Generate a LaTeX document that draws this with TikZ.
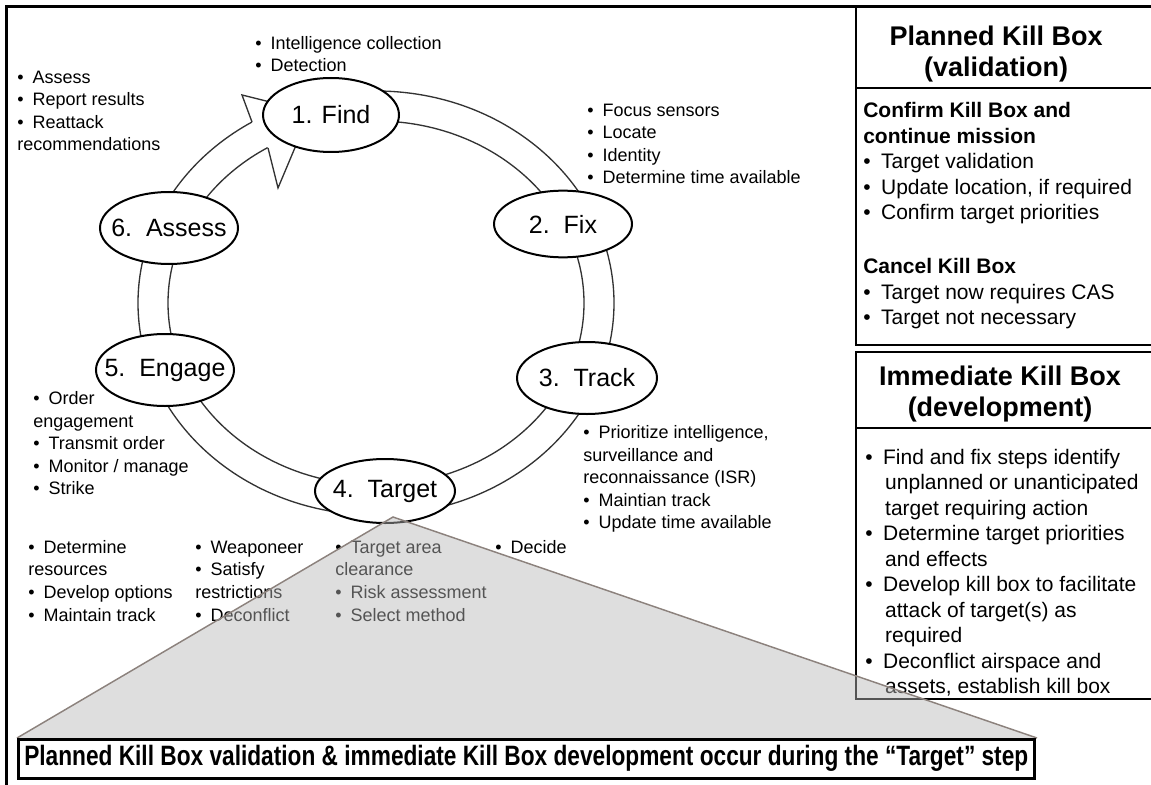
\documentclass[tikz,border=0pt]{standalone}
\usepackage{fontspec}
\usepackage{graphicx}
\setmainfont{Liberation Sans}
\usetikzlibrary{shapes.geometric}

\definecolor{edgeGray}{RGB}{140,130,125}
\newcommand{\itm}{\textbullet\hspace{0.5em}}
\newcommand{\cont}{\hspace*{0.95em}}

\begin{document}
\begin{tikzpicture}[x=0.75pt,y=-0.75pt,
    stepnode/.style={ellipse,draw,line width=1.5pt,fill=white,inner sep=0pt,
        minimum width=103.5pt,minimum height=54pt,font=\fontsize{18.75}{22}\selectfont},
    bullets/.style={align=left,anchor=base west,inner sep=0pt,font=\fontsize{13.5}{16.9}\selectfont},
    boxtext/.style={align=left,anchor=base west,inner sep=0pt,font=\fontsize{15.75}{19.1}\selectfont},
    boxhead/.style={align=center,inner sep=0pt,font=\fontsize{20.25}{23}\selectfont\bfseries},
    ring/.style={line width=1pt,draw=black!80}]

                \useasboundingbox (0,0) rectangle (1151,784);

                % frame
                \draw[line width=2.25pt] (6,800) -- (6,7) -- (1170,7);

                \coordinate (cycleCenter) at (376,303);
                \coordinate (outerBase) at (252,122);
                \coordinate (outerBarb) at (242,95);
                \coordinate (arrowTip) at (310,112);
                \coordinate (innerBarb) at (278,188);
                \coordinate (innerBase) at (268,148);

                % the cycle band
                \draw[ring] (cycleCenter) ellipse [x radius=238, y radius=212];
                \draw[ring] (cycleCenter) ellipse [x radius=208, y radius=182];

                % arrow head into Find
                \fill[white] (outerBase) -- (outerBarb) -- (arrowTip) -- (innerBarb) -- (innerBase) -- cycle;
                \draw[ring,line join=miter] (outerBase) -- (outerBarb) -- (arrowTip) -- (innerBarb) -- (innerBase);

                \node[stepnode,minimum width=102pt,minimum height=55.5pt] (findStep) at (331,115) {\makebox[0pt]{1. Find}};
                \node[stepnode,minimum height=50pt] (fixStep) at (563,224) {\makebox[0pt]{2.\ \ Fix}};
                \node[stepnode,minimum width=105pt] (trackStep) at (587,378) {\makebox[0pt]{3.\ \ Track}};
                \node[stepnode,minimum width=105pt,minimum height=48pt] (targetStep) at (385,491) {\makebox[0pt]{4.\ \ Target}};
                \node[stepnode] (engageStep) at (165,370) {\makebox[0pt]{5.\ \ Engage}};
                \node[stepnode] (assessStep) at (169,228) {\makebox[0pt]{6.\ \ Assess}};

                % lists sit on the baseline of their last line
                \node[bullets] (findList) at (255,72) {\itm Intelligence collection\\\itm Detection};
                \node[bullets] (assessList) at (17,151) {\itm Assess\\\itm Report results\\\itm Reattack\\recommendations};
                \node[bullets] (fixList) at (587,184) {\itm Focus sensors\\\itm Locate\\\itm Identity\\\itm Determine time available};
                \node[bullets] (trackList) at (583,528.6) {\itm Prioritize intelligence,\\surveillance and\\reconnaissance (ISR)\\\itm Maintian track\\\itm Update time available};
                \node[bullets] (engageList) at (33,494.6) {\itm Order\\engagement\\\itm Transmit order\\\itm Monitor / manage\\\itm Strike};

                \node[bullets] (resourceList) at (28,621) {\itm Determine\\resources\\\itm Develop options\\\itm Maintain track};
                \node[bullets] (weaponList) at (195,621) {\itm Weaponeer\\\itm Satisfy\\restrictions\\\itm Deconflict};
                \node[bullets] (clearList) at (335,621) {\itm Target area\\clearance\\\itm Risk assessment\\\itm Select method};
                \node[bullets] (decideList) at (495,553.5) {\itm Decide};

                % kill box panels
                \draw[line width=1.9pt] (856,7) rectangle (1170,345);
                \draw[line width=1.5pt] (856,88) -- (1170,88);
                \draw[line width=1.9pt] (856,352) rectangle (1170,699);
                \draw[line width=1.5pt] (856,428) -- (1170,428);

                \node[boxhead] (plannedHead) at (996,54) {Planned Kill Box\\(validation)};
                \node[boxtext] (confirmList) at (863,219.5) {\textbf{Confirm Kill Box and}\\\textbf{continue mission}\\\itm Target validation\\\itm Update location, if required\\\itm Confirm target priorities};
                \node[boxtext] (cancelList) at (863,324.5) {\textbf{Cancel Kill Box}\\\itm Target now requires CAS\\\itm Target not necessary};

                \node[boxhead] (immediateHead) at (1000,394) {Immediate Kill Box\\(development)};
                \node[boxtext] (immediateList) at (865,693.5) {\itm Find and fix steps identify\\\cont unplanned or unanticipated\\\cont target requiring action\\\itm Determine target priorities\\\cont and effects\\\itm Develop kill box to facilitate\\\cont attack of target(s) as\\\cont required\\\itm Deconflict airspace and\\\cont assets, establish kill box};

                % zoom wedge from the Target step
                \coordinate (apexPoint) at (393,517);
                \coordinate (baseLeft) at (17,738);
                \coordinate (baseRight) at (1037,738);
                \fill[black!28,fill opacity=0.46] (apexPoint) -- (baseLeft) -- (baseRight) -- cycle;
                \draw[edgeGray,line width=1.1pt] (baseLeft) -- (apexPoint) -- (baseRight);

                \node[draw,line width=1.9pt,fill=white,inner sep=0pt,anchor=north west,
                    minimum width=762pt,minimum height=29.25pt] (summaryBox) at (baseLeft)
                    {\scalebox{0.81}[1]{\fontsize{21}{24}\selectfont\bfseries Planned Kill Box validation \& immediate Kill Box development occur during the “Target” step}};
            \end{tikzpicture}
\end{document}
